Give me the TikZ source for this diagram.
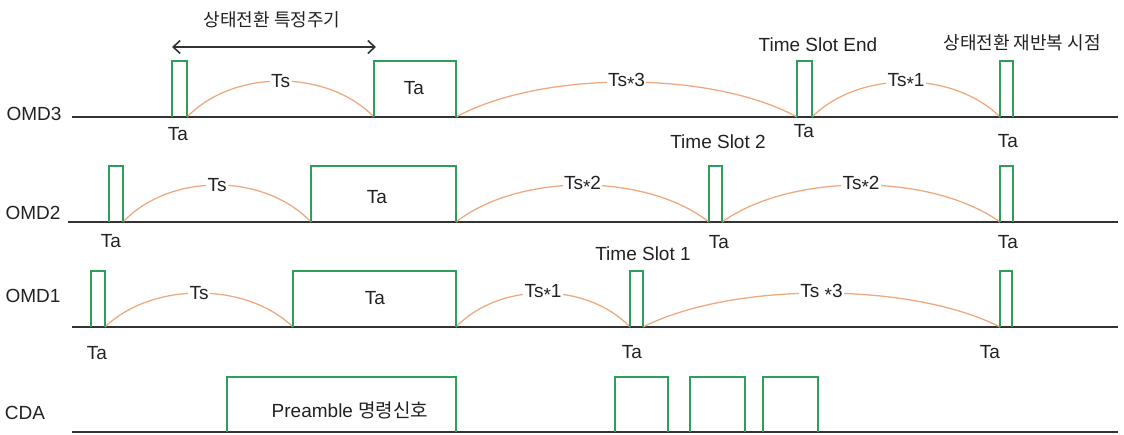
\documentclass[tikz,border=0pt]{standalone}
\usepackage{fontspec}
\setmainfont{Liberation Sans}
\newfontfamily\kr{Noto Sans CJK KR}
\usetikzlibrary{arrows.meta}
\definecolor{pgreen}{HTML}{2E9E5A}
\definecolor{arcc}{HTML}{EDAA80}
\definecolor{basec}{HTML}{333333}
\definecolor{txtc}{HTML}{222222}
\newcommand{\pulseP}[4]{\draw[pulse] (#1,#3) -- (#1,#4) -- (#2,#4) -- (#2,#3);}
\newcommand{\mulst}{\raisebox{-0.35ex}{*}}
\newcommand{\tsarc}[6]{%
  \pgfmathsetmacro\arcXa{#2+(#3-#2)/4}%
  \pgfmathsetmacro\arcXb{#2+3*(#3-#2)/4}%
  \pgfmathsetmacro\arcYc{#4-4*#5/3}%
  \pgfmathsetmacro\arcXm{(#2+#3)/2}%
  \pgfmathsetmacro\arcYm{#4-#5}%
  \draw[arcline] (#2,#4) .. controls (\arcXa,\arcYc) and (\arcXb,\arcYc) .. (#3,#4);
  \node[arclbl] (#1) at (\arcXm,\arcYm) {#6};}
\begin{document}
\begin{tikzpicture}[x=1pt,y=-1pt,
  pulse/.style={draw=pgreen,line width=2.8pt,line join=miter},
  baseln/.style={draw=basec,line width=2pt},
  arcline/.style={draw=arcc,line width=1.3pt},
  lbl/.style={text=txtc,font=\fontsize{19}{22}\selectfont,inner sep=1pt},
  krl/.style={text=txtc,font=\kr\fontsize{18}{21}\selectfont,inner sep=1pt},
  arclbl/.style={lbl,fill=white,inner sep=1.5pt}]
\useasboundingbox (0,0) rectangle (1124,434);
% ---------- row labels ----------
\node[lbl] (omd3) at (34,114) {OMD3};
\node[lbl] (omd2) at (33,213) {OMD2};
\node[lbl] (omd1) at (33,296) {OMD1};
\node[lbl] (cda) at (25,413) {CDA};
% ---------- baselines ----------
\coordinate (b3s) at (72,117); \coordinate (b3e) at (1118,117);
\coordinate (b2s) at (68,222); \coordinate (b2e) at (1118,222);
\coordinate (b1s) at (72,327); \coordinate (b1e) at (1118,327);
\coordinate (b0s) at (72,432); \coordinate (b0e) at (1118,432);
\draw[baseln] (b3s) -- (b3e);
\draw[baseln] (b2s) -- (b2e);
\draw[baseln] (b1s) -- (b1e);
\draw[baseln] (b0s) -- (b0e);
% ---------- OMD3 ----------
\tsarc{a31}{187}{374}{117}{36}{Ts}
\tsarc{a32}{456}{797}{117}{35}{Ts\mulst3}
\tsarc{a33}{812}{1000}{117}{35}{Ts\mulst1}
\pulseP{172}{187}{117}{61}
\pulseP{374}{456}{117}{61}
\pulseP{797}{812}{117}{61}
\pulseP{1000}{1013}{117}{61}
\node[lbl] (t31) at (178,134) {Ta};
\node[lbl] (t32) at (414,88) {Ta};
\node[lbl] (t33) at (804,131) {Ta};
\node[lbl] (t34) at (1008,141) {Ta};
\node[lbl] (tse) at (818,45) {Time Slot End};
\node[krl] (rep) at (1022,43) {상태전환 재반복 시점};
\coordinate (arrL) at (172,47); \coordinate (arrR) at (376,47);
\draw[basec,line width=1.6pt,{Straight Barb[length=7pt,width=13pt]}-{Straight Barb[length=7pt,width=13pt]}] (arrL) -- (arrR);
\node[krl] (per) at (272,20) {상태전환 특정주기};
% ---------- OMD2 ----------
\tsarc{a21}{123}{311}{222}{37}{Ts}
\tsarc{a22}{456}{709}{222}{37}{Ts\mulst2}
\tsarc{a23}{722}{1000}{222}{37}{Ts\mulst2}
\pulseP{109}{123}{222}{166}
\pulseP{311}{456}{222}{166}
\pulseP{709}{722}{222}{166}
\pulseP{1000}{1013}{222}{166}
\node[lbl] (t21) at (111,241) {Ta};
\node[lbl] (t22) at (377,197) {Ta};
\node[lbl] (t23) at (719,242) {Ta};
\node[lbl] (t24) at (1008,242) {Ta};
\node[lbl] (ts2) at (718,142) {Time Slot 2};
% ---------- OMD1 ----------
\tsarc{a11}{105}{293}{327}{34}{Ts}
\tsarc{a12}{456}{630}{327}{34}{Ts\mulst1}
\tsarc{a13}{643}{1000}{327}{34}{Ts \mulst3}
\pulseP{91}{105}{327}{271}
\pulseP{293}{456}{327}{271}
\pulseP{630}{643}{327}{271}
\pulseP{1000}{1012}{327}{271}
\node[lbl] (t11) at (97,353) {Ta};
\node[lbl] (t12) at (375,298) {Ta};
\node[lbl] (t13) at (632,352) {Ta};
\node[lbl] (t14) at (990,352) {Ta};
\node[lbl] (ts1) at (643,254) {Time Slot 1};
% ---------- CDA ----------
\pulseP{227}{456}{432}{377}
\pulseP{615}{668}{432}{377}
\pulseP{690}{745}{432}{377}
\pulseP{763}{818}{432}{377}
\node[lbl] (pre) at (350,410) {Preamble {\kr 명령신호}};
\end{tikzpicture}
\end{document}
